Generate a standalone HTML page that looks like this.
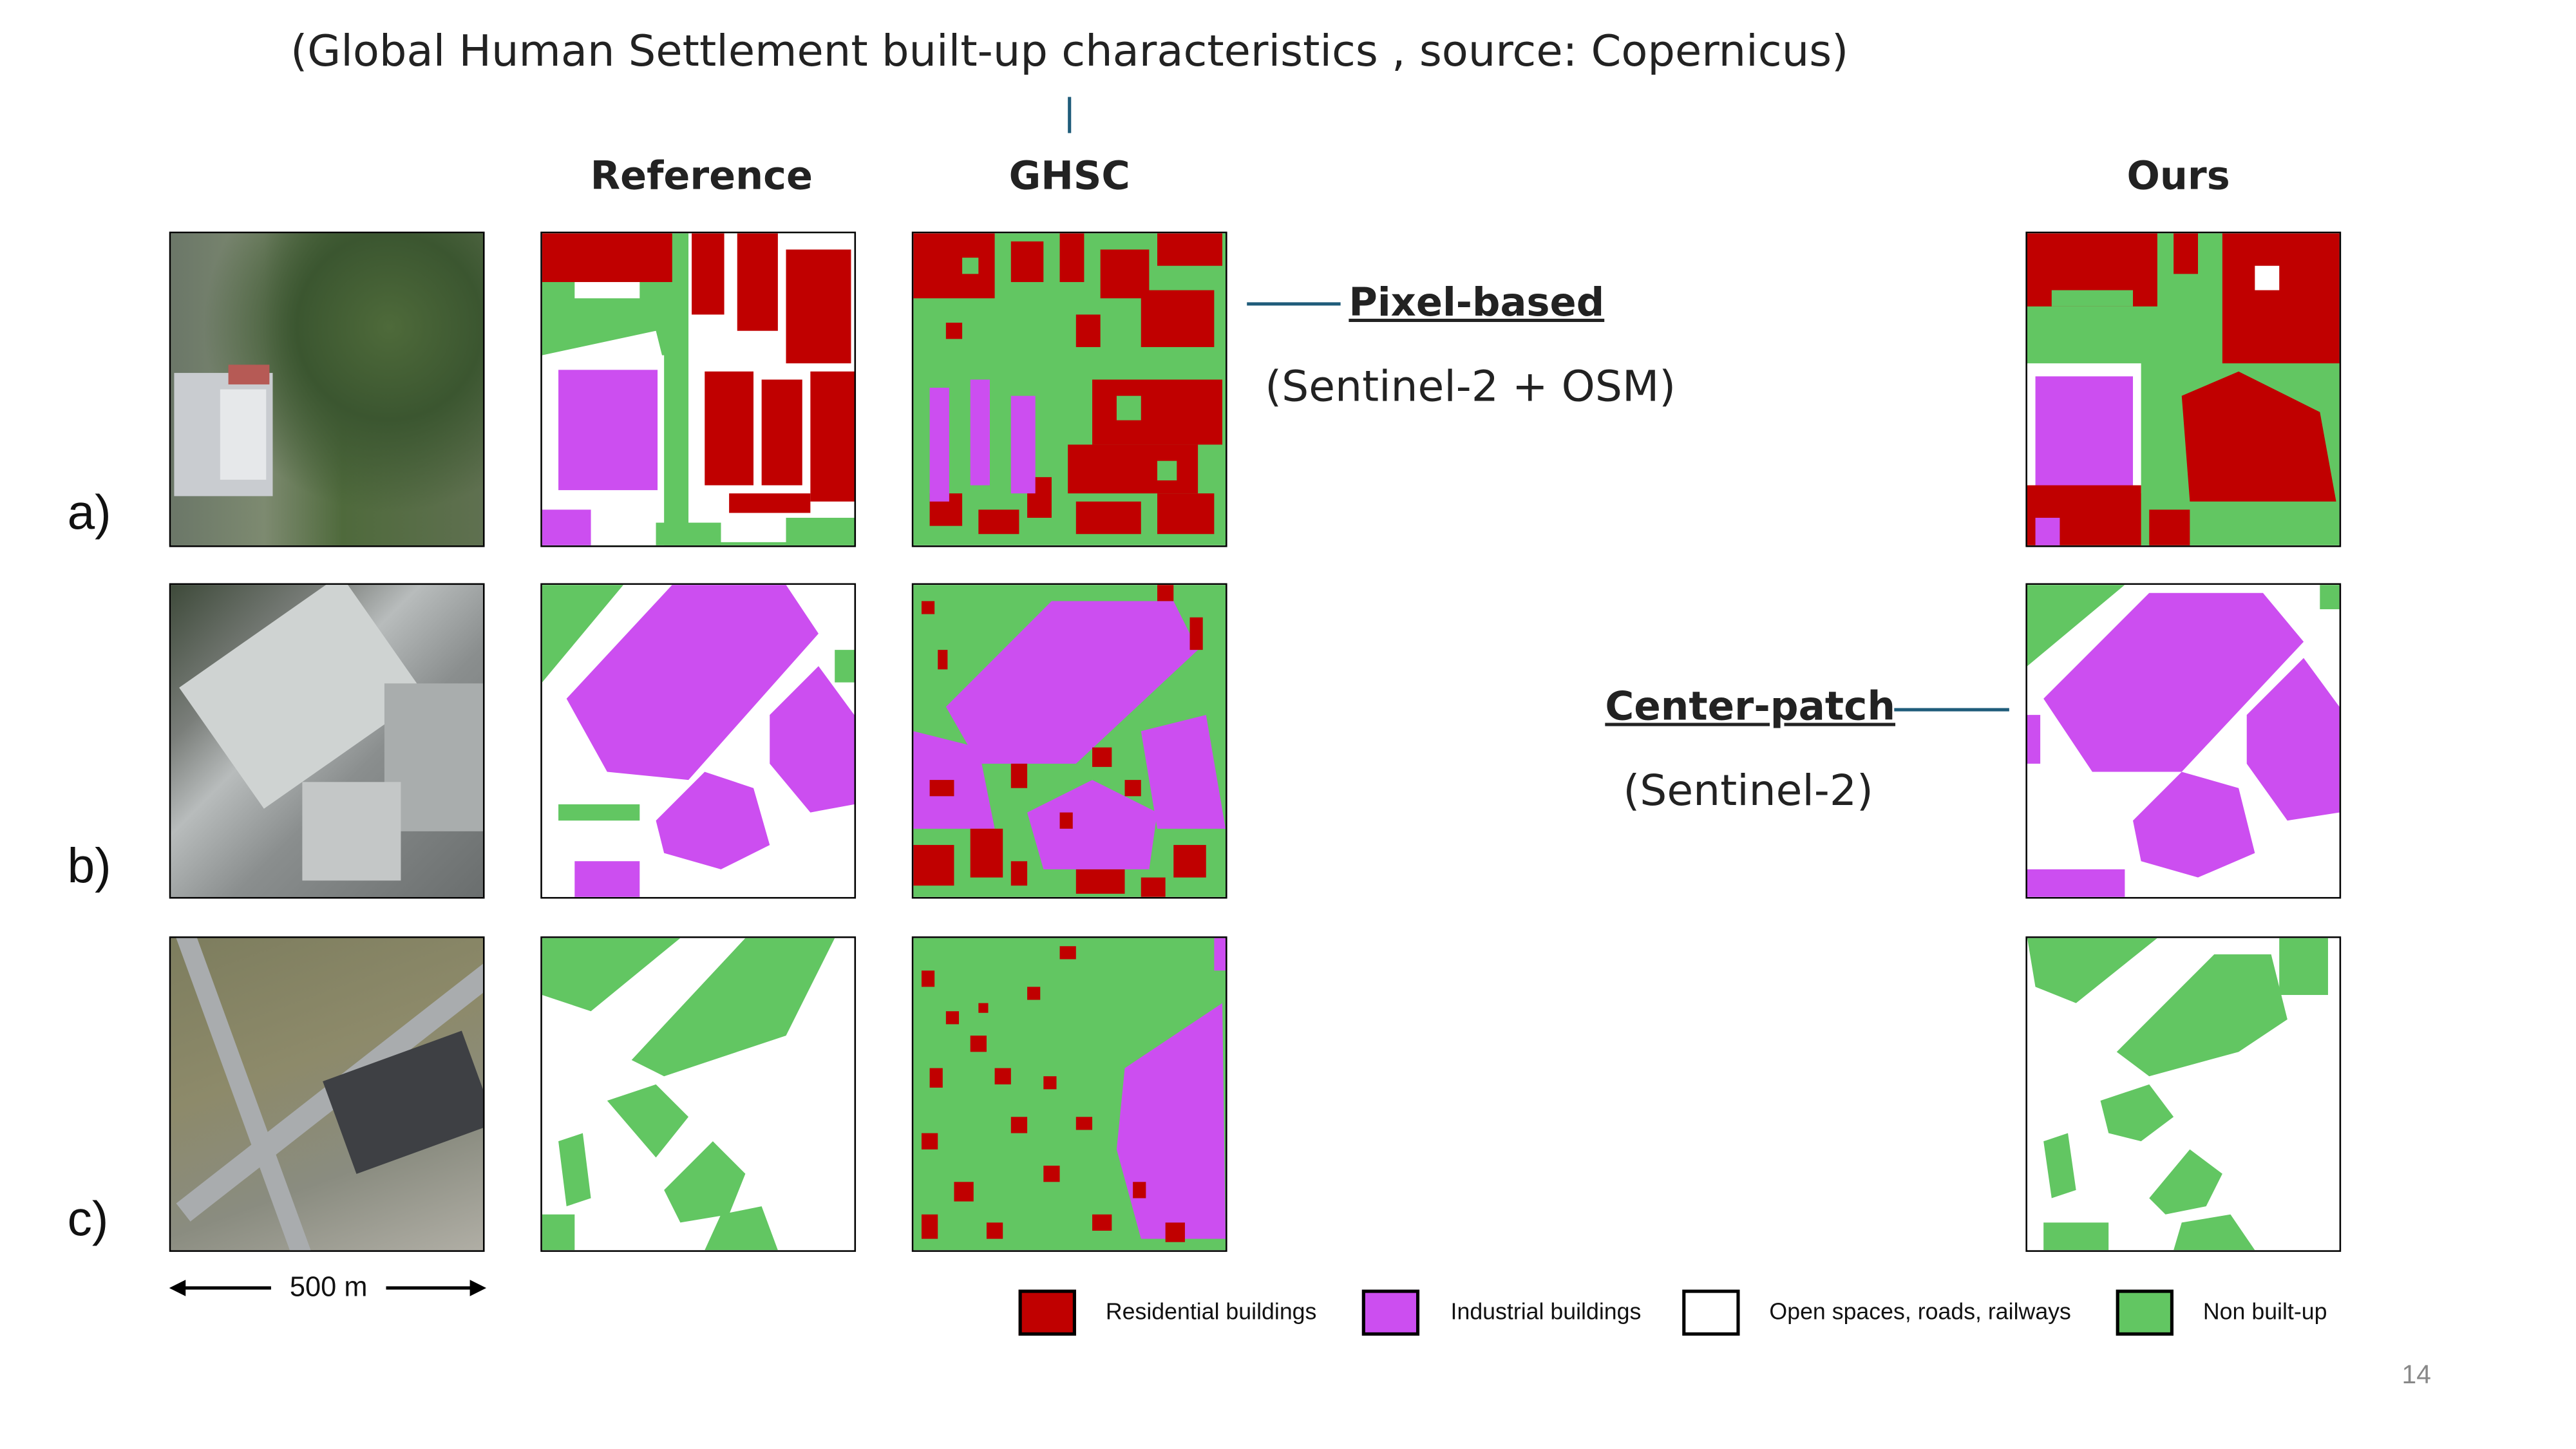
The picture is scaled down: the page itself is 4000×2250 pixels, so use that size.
<!DOCTYPE html>
<html><head><meta charset="utf-8">
<style>
html,body{margin:0;padding:0;background:#fff;}
body{width:4000px;height:2250px;overflow:hidden;position:relative;}
#w{position:absolute;left:0;top:0;width:1568px;height:882px;transform:scale(2.551);transform-origin:0 0;font-family:"Liberation Sans","DejaVu Sans",sans-serif;}
.t{position:absolute;white-space:nowrap;}
.tile{position:absolute;width:192px;height:192px;box-sizing:border-box;border:1px solid #000;overflow:hidden;}
.tile svg{display:block;width:100%;height:100%;}
.h{font-family:"DejaVu Sans","Liberation Sans",sans-serif;font-weight:bold;font-size:23.7px;color:#222;transform:translateX(-50%);}
.lab{font-size:30px;color:#111;}
.lg{position:absolute;width:31px;height:24px;border:2px solid #000;top:785px;}
.lt{position:absolute;top:790px;font-size:14px;color:#111;}
</style></head><body><div id="w">

<div class="t" style="left:651px;top:17px;transform:translateX(-50%);font-size:26.3px;color:#222;font-family:'DejaVu Sans','Liberation Sans',sans-serif;">(Global Human Settlement built-up characteristics , source: Copernicus)</div>
<div style="position:absolute;left:650px;top:59px;width:2px;height:22px;background:#1f5c7a;"></div>

<div class="t h" style="left:427px;top:93px;">Reference</div>
<div class="t h" style="left:651px;top:93px;">GHSC</div>
<div class="t h" style="left:1326px;top:93px;">Ours</div>

<div class="t lab" style="left:41px;top:296px;">a)</div>
<div class="t lab" style="left:41px;top:511px;">b)</div>
<div class="t lab" style="left:41px;top:726px;">c)</div>

<!-- aerial photos -->
<div class="tile" style="left:103px;top:141px;background:
radial-gradient(circle at 70% 30%,#4e6a3a 0,#3b5630 30%,transparent 60%),
linear-gradient(90deg,#6b7768 0,#7d8a70 30%,#4f6a3c 55%,#5f7050 100%);">
<div style="position:absolute;left:2px;top:85px;width:60px;height:75px;background:#c9ccd0;"></div>
<div style="position:absolute;left:30px;top:95px;width:28px;height:55px;background:#e6e8ea;"></div>
<div style="position:absolute;left:35px;top:80px;width:25px;height:12px;background:#b65a55;"></div>
</div>
<div class="tile" style="left:103px;top:355px;background:linear-gradient(135deg,#3e4a3a 0,#7a7e7a 25%,#b8bcbc 40%,#8a8e8e 60%,#6a6e6e 100%);">
<div style="position:absolute;left:20px;top:20px;width:120px;height:90px;background:#cfd3d2;transform:rotate(-35deg);transform-origin:60px 45px;"></div>
<div style="position:absolute;left:130px;top:60px;width:60px;height:90px;background:#a9adad;"></div>
<div style="position:absolute;left:80px;top:120px;width:60px;height:60px;background:#c4c7c7;"></div>
</div>
<div class="tile" style="left:103px;top:570px;background:linear-gradient(160deg,#7d7d5e 0,#8d8a6a 40%,#8a8c80 70%,#b0aea5 100%);">
<div style="position:absolute;left:40px;top:-20px;width:12px;height:240px;background:#a9acae;transform:rotate(-20deg);"></div>
<div style="position:absolute;left:-20px;top:80px;width:260px;height:14px;background:#a9acae;transform:rotate(-38deg);"></div>
<div style="position:absolute;left:100px;top:70px;width:90px;height:60px;background:#3e4044;transform:rotate(-20deg);"></div>
</div>

<!-- Reference a -->
<div class="tile" style="left:329px;top:141px;"><svg viewBox="0 0 192 192">
<rect width="192" height="192" fill="#62c662"/>
<path d="M0 75 H75 V192 H0Z M0 75 L70 60 L75 80Z" fill="#fff"/>
<rect x="10" y="84" width="61" height="74" fill="#cc4ef0"/>
<rect x="0" y="170" width="30" height="22" fill="#cc4ef0"/>
<rect x="0" y="0" width="80" height="30" fill="#c00000"/><rect x="20" y="30" width="40" height="10" fill="#fff"/>
<rect x="90" y="0" width="102" height="190" fill="#fff"/>
<rect x="92" y="0" width="20" height="50" fill="#c00000"/>
<rect x="120" y="0" width="25" height="60" fill="#c00000"/>
<rect x="150" y="10" width="40" height="70" fill="#c00000"/>
<rect x="100" y="85" width="30" height="70" fill="#c00000"/>
<rect x="135" y="90" width="25" height="65" fill="#c00000"/>
<rect x="165" y="85" width="27" height="80" fill="#c00000"/>
<rect x="115" y="160" width="50" height="12" fill="#c00000"/>
<rect x="150" y="175" width="42" height="17" fill="#62c662"/>
<rect x="70" y="178" width="40" height="14" fill="#62c662"/>
</svg></div>

<!-- GHSC a -->
<div class="tile" style="left:555px;top:141px;"><svg viewBox="0 0 192 192">
<rect width="192" height="192" fill="#62c662"/>
<g fill="#c00000">
<rect x="0" y="0" width="50" height="40"/><rect x="60" y="5" width="20" height="25"/><rect x="90" y="0" width="15" height="30"/>
<rect x="115" y="10" width="30" height="30"/><rect x="150" y="0" width="40" height="20"/><rect x="140" y="35" width="45" height="35"/>
<rect x="100" y="50" width="15" height="20"/><rect x="20" y="55" width="10" height="10"/>
<rect x="110" y="90" width="80" height="40"/><rect x="95" y="130" width="80" height="30"/><rect x="100" y="165" width="40" height="20"/>
<rect x="150" y="160" width="35" height="25"/><rect x="10" y="160" width="20" height="20"/><rect x="40" y="170" width="25" height="15"/>
<rect x="70" y="150" width="15" height="25"/>
</g>
<g fill="#cc4ef0"><rect x="10" y="95" width="12" height="70"/><rect x="35" y="90" width="12" height="65"/><rect x="60" y="100" width="15" height="60"/></g>
<g fill="#62c662"><rect x="125" y="100" width="15" height="15"/><rect x="150" y="140" width="12" height="12"/><rect x="30" y="15" width="10" height="10"/></g>
</svg></div>

<!-- Ours a -->
<div class="tile" style="left:1233px;top:141px;"><svg viewBox="0 0 192 192">
<rect width="192" height="192" fill="#62c662"/>
<rect x="0" y="0" width="80" height="45" fill="#c00000"/><rect x="15" y="35" width="50" height="10" fill="#62c662"/>
<rect x="90" y="0" width="15" height="25" fill="#c00000"/>
<rect x="120" y="0" width="72" height="80" fill="#c00000"/><rect x="140" y="20" width="15" height="15" fill="#fff"/>
<path d="M95 100 L130 85 L180 110 L190 165 L100 165Z" fill="#c00000"/>
<rect x="0" y="80" width="70" height="80" fill="#fff"/>
<rect x="5" y="88" width="60" height="70" fill="#cc4ef0"/>
<rect x="0" y="155" width="70" height="37" fill="#c00000"/><rect x="5" y="175" width="15" height="17" fill="#cc4ef0"/>
<rect x="75" y="170" width="25" height="22" fill="#c00000"/>
</svg></div>

<!-- Reference b -->
<div class="tile" style="left:329px;top:355px;"><svg viewBox="0 0 192 192">
<rect width="192" height="192" fill="#fff"/>
<path d="M0 0 H50 L0 60Z" fill="#62c662"/>
<path d="M15 70 L80 0 H150 L170 30 L90 120 L40 115Z" fill="#cc4ef0"/>
<path d="M140 80 L170 50 L192 80 L192 135 L165 140 L140 110Z" fill="#cc4ef0"/>
<path d="M70 145 L100 115 L130 125 L140 160 L110 175 L75 165Z" fill="#cc4ef0"/>
<path d="M20 170 H60 V192 H20Z" fill="#cc4ef0"/>
<rect x="10" y="135" width="50" height="10" fill="#62c662"/>
<rect x="180" y="40" width="12" height="20" fill="#62c662"/>
</svg></div>

<!-- GHSC b -->
<div class="tile" style="left:555px;top:355px;"><svg viewBox="0 0 192 192">
<rect width="192" height="192" fill="#62c662"/>
<path d="M20 75 L85 10 H160 L175 40 L100 110 L40 110Z" fill="#cc4ef0"/>
<path d="M140 90 L180 80 L192 150 L150 150Z" fill="#cc4ef0"/>
<path d="M0 90 L40 100 L50 150 L0 150Z" fill="#cc4ef0"/>
<path d="M70 140 L110 120 L150 140 L145 175 L80 175Z" fill="#cc4ef0"/>
<g fill="#c00000">
<rect x="5" y="10" width="8" height="8"/><rect x="15" y="40" width="6" height="12"/><rect x="150" y="0" width="10" height="10"/><rect x="170" y="20" width="8" height="20"/>
<rect x="10" y="120" width="15" height="10"/><rect x="0" y="160" width="25" height="25"/><rect x="35" y="150" width="20" height="30"/><rect x="60" y="110" width="10" height="15"/>
<rect x="110" y="100" width="12" height="12"/><rect x="130" y="120" width="10" height="10"/><rect x="160" y="160" width="20" height="20"/><rect x="100" y="175" width="30" height="15"/>
<rect x="60" y="170" width="10" height="15"/><rect x="140" y="180" width="15" height="12"/><rect x="90" y="140" width="8" height="10"/>
</g></svg></div>

<!-- Ours b -->
<div class="tile" style="left:1233px;top:355px;"><svg viewBox="0 0 192 192">
<rect width="192" height="192" fill="#fff"/>
<path d="M0 0 H60 L0 50Z" fill="#62c662"/>
<path d="M10 70 L75 5 H145 L170 35 L95 115 L40 115Z" fill="#cc4ef0"/>
<path d="M135 80 L170 45 L192 75 L192 140 L160 145 L135 110Z" fill="#cc4ef0"/>
<path d="M65 145 L95 115 L130 125 L140 165 L105 180 L70 170Z" fill="#cc4ef0"/>
<path d="M0 175 H60 V192 H0Z" fill="#cc4ef0"/>
<rect x="180" y="0" width="12" height="15" fill="#62c662"/>
<rect x="0" y="80" width="8" height="30" fill="#cc4ef0"/>
</svg></div>

<!-- Reference c -->
<div class="tile" style="left:329px;top:570px;"><svg viewBox="0 0 192 192">
<rect width="192" height="192" fill="#fff"/>
<path d="M0 0 H85 L30 45 L0 35Z" fill="#62c662"/>
<path d="M55 75 L125 0 H180 L150 60 L75 85Z" fill="#62c662"/>
<path d="M40 100 L70 90 L90 110 L70 135Z" fill="#62c662"/>
<path d="M75 155 L105 125 L125 145 L115 170 L85 175Z" fill="#62c662"/>
<path d="M10 125 L25 120 L30 160 L15 165Z" fill="#62c662"/>
<path d="M0 170 H20 V192 H0Z" fill="#62c662"/>
<path d="M110 170 L135 165 L145 192 H100Z" fill="#62c662"/>
</svg></div>

<!-- GHSC c -->
<div class="tile" style="left:555px;top:570px;"><svg viewBox="0 0 192 192">
<rect width="192" height="192" fill="#62c662"/>
<path d="M130 80 L190 40 L192 185 L140 185 L125 130Z" fill="#cc4ef0"/>
<path d="M185 0 H192 V20 H185Z" fill="#cc4ef0"/>
<g fill="#c00000">
<rect x="5" y="20" width="8" height="10"/><rect x="20" y="45" width="8" height="8"/><rect x="35" y="60" width="10" height="10"/><rect x="10" y="80" width="8" height="12"/>
<rect x="50" y="80" width="10" height="10"/><rect x="70" y="30" width="8" height="8"/><rect x="90" y="5" width="10" height="8"/><rect x="60" y="110" width="10" height="10"/>
<rect x="5" y="120" width="10" height="10"/><rect x="25" y="150" width="12" height="12"/><rect x="5" y="170" width="10" height="15"/><rect x="45" y="175" width="10" height="10"/>
<rect x="80" y="140" width="10" height="10"/><rect x="100" y="110" width="10" height="8"/><rect x="110" y="170" width="12" height="10"/><rect x="135" y="150" width="8" height="10"/>
<rect x="155" y="175" width="12" height="12"/><rect x="40" y="40" width="6" height="6"/><rect x="80" y="85" width="8" height="8"/>
</g></svg></div>

<!-- Ours c -->
<div class="tile" style="left:1233px;top:570px;"><svg viewBox="0 0 192 192">
<rect width="192" height="192" fill="#fff"/>
<path d="M0 0 H80 L30 40 L5 30Z" fill="#62c662"/>
<path d="M55 70 L115 10 H150 L160 50 L130 70 L75 85Z" fill="#62c662"/>
<path d="M45 100 L75 90 L90 110 L70 125 L50 120Z" fill="#62c662"/>
<path d="M75 160 L100 130 L120 145 L110 165 L85 170Z" fill="#62c662"/>
<path d="M10 125 L25 120 L30 155 L15 160Z" fill="#62c662"/>
<path d="M10 175 H50 V192 H10Z" fill="#62c662"/>
<path d="M95 175 L125 170 L140 192 H90Z" fill="#62c662"/>
<rect x="155" y="0" width="30" height="35" fill="#62c662"/>
</svg></div>

<!-- annotations -->
<div style="position:absolute;left:759px;top:184px;width:57px;height:2px;background:#1f5c7a;"></div>
<div class="t" style="left:821px;top:170px;font-family:'DejaVu Sans','Liberation Sans',sans-serif;font-weight:bold;font-size:23.8px;color:#222;text-decoration:underline;">Pixel-based</div>
<div class="t" style="left:770px;top:221px;font-family:'DejaVu Sans','Liberation Sans',sans-serif;font-size:26px;color:#222;">(Sentinel-2 + OSM)</div>
<div style="position:absolute;left:1153px;top:431px;width:70px;height:2px;background:#1f5c7a;"></div>
<div class="t" style="left:977px;top:416px;font-family:'DejaVu Sans','Liberation Sans',sans-serif;font-weight:bold;font-size:24px;color:#222;text-decoration:underline;">Center-patch</div>
<div class="t" style="left:988px;top:467px;font-family:'DejaVu Sans','Liberation Sans',sans-serif;font-size:26px;color:#222;">(Sentinel-2)</div>

<!-- scale bar -->
<svg style="position:absolute;left:100px;top:773px;" width="200" height="22">
<line x1="8" y1="11" x2="65" y2="11" stroke="#000" stroke-width="2"/>
<path d="M3 11 L13 6 L13 16Z" fill="#000"/>
<line x1="135" y1="11" x2="190" y2="11" stroke="#000" stroke-width="2"/>
<path d="M196 11 L186 6 L186 16Z" fill="#000"/>
</svg>
<div class="t" style="left:200px;top:774px;transform:translateX(-50%);font-size:17px;color:#111;">500 m</div>

<!-- legend -->
<div class="lg" style="left:620px;background:#c00000;"></div>
<div class="lt" style="left:673px;">Residential buildings</div>
<div class="lg" style="left:829px;background:#cc4ef0;"></div>
<div class="lt" style="left:883px;">Industrial buildings</div>
<div class="lg" style="left:1024px;background:#fff;"></div>
<div class="lt" style="left:1077px;">Open spaces, roads, railways</div>
<div class="lg" style="left:1288px;background:#62c662;"></div>
<div class="lt" style="left:1341px;">Non built-up</div>

<div class="t" style="left:1462px;top:829px;font-size:16px;color:#888;">14</div>
</div></body></html>
